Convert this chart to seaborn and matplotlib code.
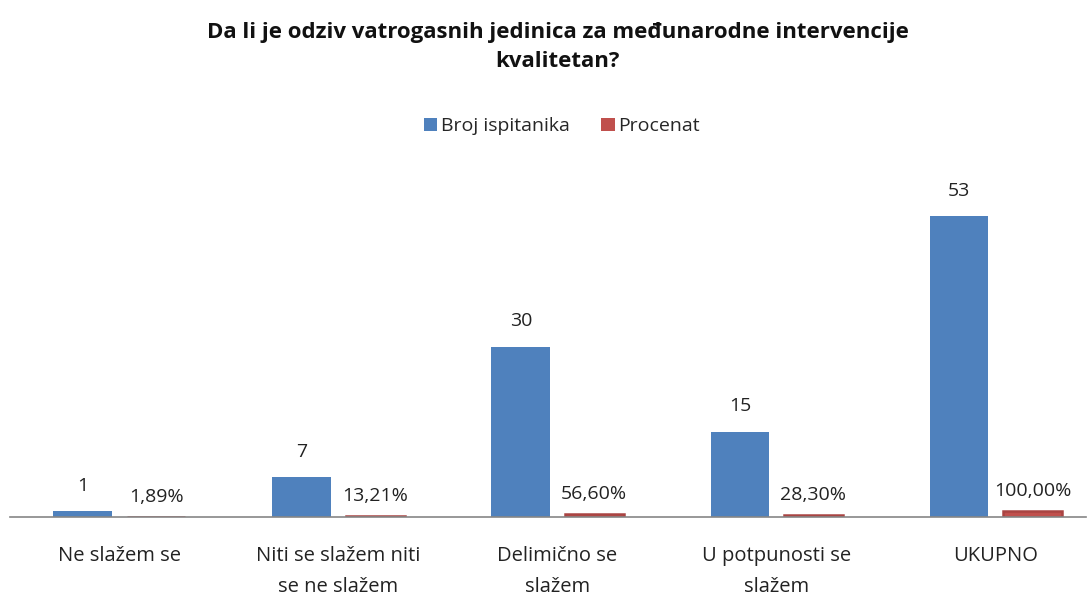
import pandas as pd
import seaborn as sns
from matplotlib import pyplot as plt

# data
categories = ['Ne slažem se', 'Niti se slažem niti\nse ne slažem', 'Delimično se\nslažem',
              'U potpunosti se\nslažem', 'UKUPNO']
broj = [1, 7, 30, 15, 53]
procenat = [0.0189, 0.1321, 0.5660, 0.2830, 1.0]
procenat_labels = ['1,89%', '13,21%', '56,60%', '28,30%', '100,00%']
series = ['Broj ispitanika', 'Procenat']

df = pd.DataFrame({
    'kategorija': categories * 2,
    'vrednost': broj + procenat,
    'serija': [series[0]] * len(broj) + [series[1]] * len(procenat),
})

sns.set_style('white')
plt.rcParams['font.family'] = ['Open Sans', 'DejaVu Sans']

fig = plt.figure(figsize=(10.91, 5.96), dpi=100)
ax = fig.add_axes([0.009, 0.1325, 0.986, 0.571])

sns.barplot(data=df, x='kategorija', y='vrednost', hue='serija',
            palette=['#4F81BD', '#C0504D'], saturation=1, width=0.67, gap=0.2,
            edgecolor=None, linewidth=0, ax=ax)

# tiny red bars still need to show up like in excel
for patch in ax.containers[1]:
    patch.set_edgecolor('#A94442')
    patch.set_linewidth(1.8)

ax.bar_label(ax.containers[0], labels=[str(v) for v in broj], padding=12,
             fontsize=14, color='#222222')
ax.bar_label(ax.containers[1], labels=procenat_labels, padding=8,
             fontsize=14, color='#222222')

ax.set_ylim(0, 60)
ax.set_xlim(-0.5, 4.41)
ax.set_xlabel('')
ax.set_ylabel('')
ax.set_yticks([])
ax.tick_params(axis='x', length=0, pad=21, labelsize=14.5, labelcolor='#222222')
for lbl in ax.get_xticklabels():
    lbl.set_linespacing(1.75)
for s in ['top', 'right', 'left']:
    ax.spines[s].set_visible(False)
ax.spines['bottom'].set_color('#868686')
ax.spines['bottom'].set_linewidth(1.2)

ax.legend(loc='center', bbox_to_anchor=(0.515, 0.788), bbox_transform=fig.transFigure,
          ncol=2, frameon=False, fontsize=14, handlelength=0.7, handleheight=0.7,
          handletextpad=0.2, columnspacing=1.6)

fig.text(0.511, 0.921, 'Da li je odziv vatrogasnih jedinica za međunarodne intervencije\nkvalitetan?',
         ha='center', va='center', fontsize=16, fontweight='bold', linespacing=1.5,
         color='#111111')

fig.savefig('out.png', dpi=100)
